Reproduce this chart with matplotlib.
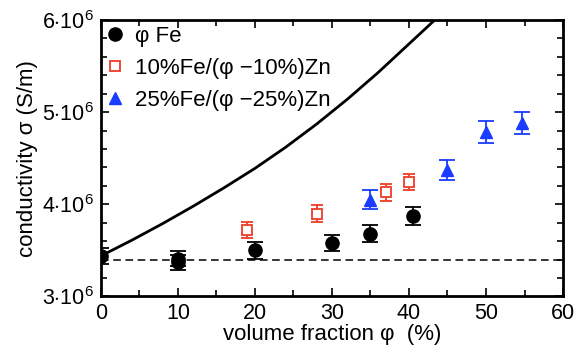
import numpy as np
import matplotlib
matplotlib.use("Agg")
import matplotlib.pyplot as plt
from matplotlib.ticker import FixedLocator, MultipleLocator

plt.rcParams['font.family'] = ['Liberation Sans', 'DejaVu Sans']
plt.rcParams['mathtext.fontset'] = 'custom'
plt.rcParams['mathtext.rm'] = 'Liberation Sans'

# pure Fe
fe_phi = [0, 10, 10, 20, 30, 35, 40.5]
fe_sig = [3.44e6, 3.37e6, 3.41e6, 3.50e6, 3.58e6, 3.68e6, 3.87e6]
fe_err = [0.09e6, 0.08e6, 0.08e6, 0.09e6, 0.09e6, 0.09e6, 0.10e6]

# 10% Fe / Zn
fe10_phi = [19, 28, 37, 40]
fe10_sig = [3.72e6, 3.90e6, 4.13e6, 4.24e6]
fe10_err = [0.09e6, 0.09e6, 0.09e6, 0.09e6]

# 25% Fe / Zn
fe25_phi = [35, 45, 50, 54.7]
fe25_sig = [4.05e6, 4.37e6, 4.78e6, 4.88e6]
fe25_err = [0.10e6, 0.11e6, 0.12e6, 0.12e6]

# model curve
model_phi = [0, 2, 4, 6, 8, 10, 12, 14, 16, 18, 20, 22, 24, 26, 28, 30, 32, 34, 36, 38, 40, 42, 43.6]
model_sig = [3.44e6, 3.525e6, 3.61e6, 3.70e6, 3.79e6, 3.885e6, 3.98e6, 4.08e6, 4.18e6, 4.285e6,
             4.39e6, 4.505e6, 4.62e6, 4.745e6, 4.87e6, 5.005e6, 5.14e6, 5.285e6, 5.43e6,
             5.585e6, 5.74e6, 5.895e6, 6.02e6]

zn_level = 3.40e6

red = '#f03a26'
blue = '#1a3cff'

fig = plt.figure(figsize=(5.83, 3.5), dpi=100)
ax = fig.add_axes([0.1732, 0.153, 0.7925, 0.790])

ax.plot(model_phi, model_sig, color='black', lw=2, zorder=2)
ax.axhline(zn_level, color='black', lw=1.1, ls=(0, (5, 3)), zorder=1)

ax.errorbar(fe_phi, fe_sig, yerr=fe_err, fmt='none', ecolor='black', elinewidth=1.3, capsize=6, capthick=1.3)
ax.errorbar(fe10_phi, fe10_sig, yerr=fe10_err, fmt='none', ecolor=red, elinewidth=1.3, capsize=4, capthick=1.3)
ax.errorbar(fe25_phi, fe25_sig, yerr=fe25_err, fmt='none', ecolor=blue, elinewidth=1.3, capsize=6, capthick=1.3)

ax.plot(fe_phi, fe_sig, 'o', color='black', ms=9.5, ls='none', label='φ Fe', zorder=4)
ax.plot(fe10_phi, fe10_sig, 's', mfc='white', mec=red, mew=1.3, ms=7, ls='none',
        label='10%Fe/(φ −10%)Zn', zorder=4)
ax.plot(fe25_phi, fe25_sig, '^', color=blue, ms=8, ls='none',
        label='25%Fe/(φ −25%)Zn', zorder=4)

ax.set_xlim(0, 60)
ax.set_ylim(3e6, 6e6)
ax.xaxis.set_major_locator(MultipleLocator(10))
ax.xaxis.set_minor_locator(MultipleLocator(5))
ax.yaxis.set_major_locator(FixedLocator([3e6, 4e6, 5e6, 6e6]))
ax.yaxis.set_minor_locator(MultipleLocator(0.2e6))
ax.set_yticklabels([r'$3{\cdot}10^6$', r'$4{\cdot}10^6$', r'$5{\cdot}10^6$', r'$6{\cdot}10^6$'])

ax.tick_params(which='both', direction='in', top=True, right=True, labelsize=15.5, width=1.2)
ax.tick_params(which='major', length=6, pad=5)
ax.tick_params(which='minor', length=4)
for s in ax.spines.values():
    s.set_linewidth(2)

ax.set_xlabel('volume fraction φ  (%)', fontsize=16, labelpad=0)
ax.set_ylabel('conductivity σ (S/m)', fontsize=16, labelpad=3)

ax.legend(loc='upper left', frameon=False, fontsize=16, handlelength=0.8,
          handletextpad=0.5, borderaxespad=0.1, borderpad=0.15, labelspacing=0.5)

fig.savefig('out.png', dpi=100)
